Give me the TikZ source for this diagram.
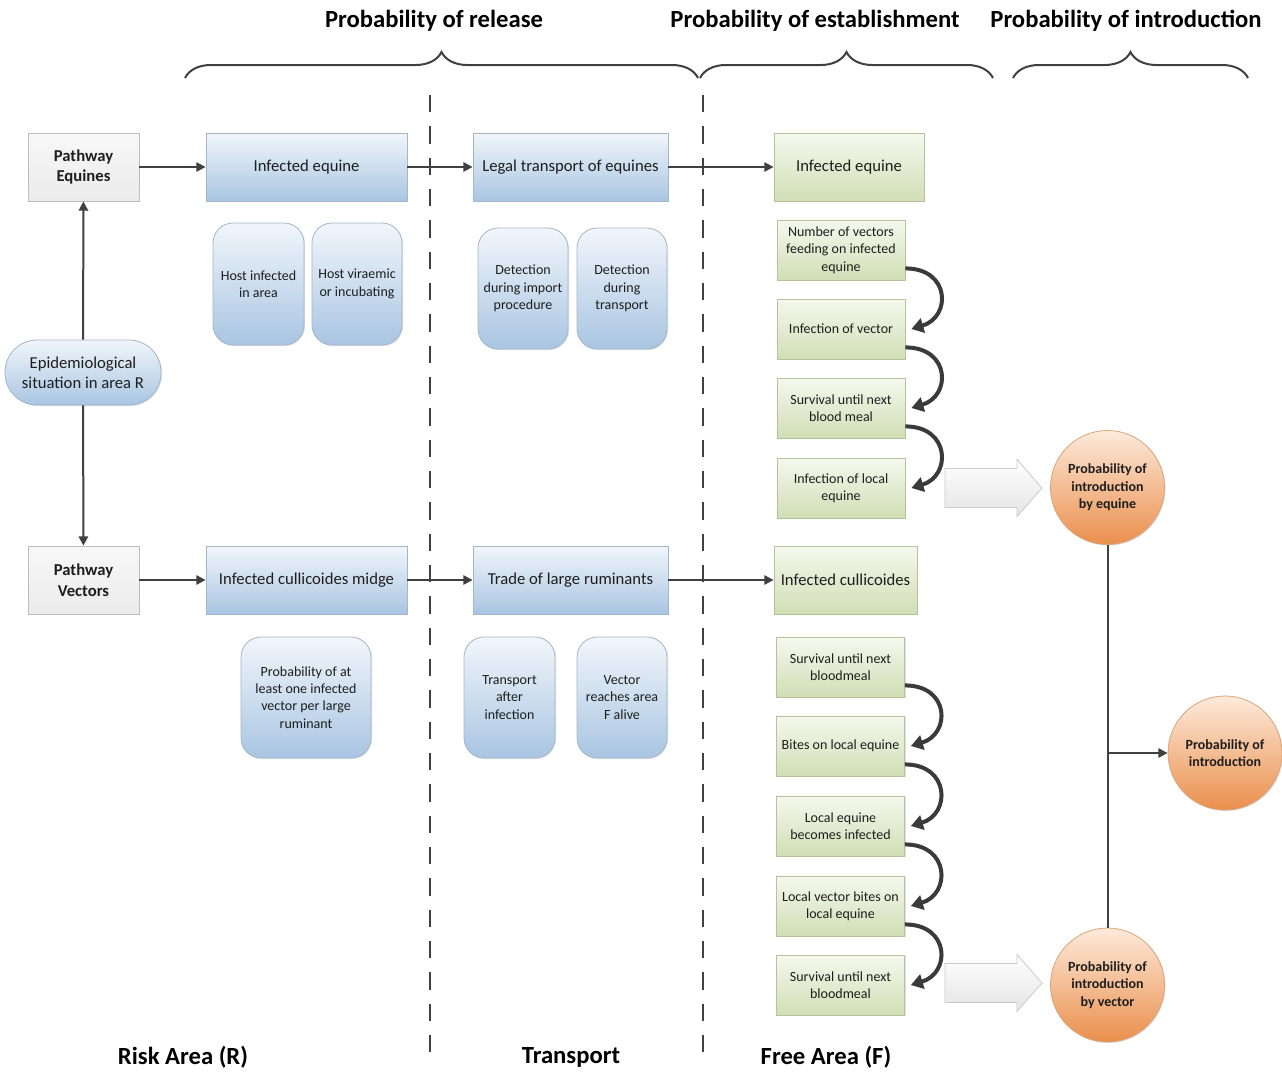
\documentclass[tikz,border=0pt]{standalone}
\usepackage{fontspec}
\setmainfont{Carlito}
\usetikzlibrary{arrows.meta,shapes.geometric,decorations.pathreplacing,calc,shadows}
\definecolor{txt}{HTML}{1E1E1E}
\definecolor{lnc}{HTML}{404040}
\definecolor{bluetop}{HTML}{F1F6FB}
\definecolor{bluebot}{HTML}{A9C5E2}
\definecolor{blueline}{HTML}{A3B6CA}
\definecolor{greentop}{HTML}{F5F8EE}
\definecolor{greenbot}{HTML}{D1DEB5}
\definecolor{greenline}{HTML}{B4C39A}
\definecolor{graytop}{HTML}{F8F8F8}
\definecolor{graybot}{HTML}{EBEBEB}
\definecolor{grayline}{HTML}{BDBDBD}
\definecolor{arrbot}{HTML}{E4E4E4}
\definecolor{ortop}{HTML}{FDEADB}
\definecolor{orbot}{HTML}{EA8F4C}
\definecolor{orline}{HTML}{D9A57A}
\begin{document}
\begin{tikzpicture}[x=0.75pt,y=-0.75pt,
  sz/.style 2 args={minimum width=#1*0.75pt, minimum height=#2*0.75pt},
  shd/.style={drop shadow={shadow xshift=0.8pt, shadow yshift=-0.8pt, opacity=0.25, fill=gray}},
  base/.style={inner sep=0pt, align=center, text=txt, line width=0.6pt, shd},
  graybox/.style={base, draw=grayline, top color=graytop, bottom color=graybot, font=\fontsize{12.5}{15.5}\selectfont\bfseries},
  bluebox/.style={base, draw=blueline, top color=bluetop, bottom color=bluebot, font=\fontsize{12.5}{15}\selectfont},
  bluerd/.style={bluebox, rounded corners=15pt, font=\fontsize{10.5}{13}\selectfont},
  greenbig/.style={base, draw=greenline, top color=greentop, bottom color=greenbot, font=\fontsize{12.5}{15}\selectfont},
  greensm/.style={greenbig, sz={128}{60}, font=\fontsize{10.5}{13}\selectfont},
  epistyle/.style={bluebox, rounded corners=24pt},
  circ/.style={base, circle, draw=orline, top color=ortop, bottom color=orbot, minimum size=85.5pt, font=\fontsize{10.5}{13}\selectfont\bfseries},
  bigarrow/.style={draw=grayline!80, line width=0.6pt, top color=white, bottom color=arrbot},
  arr/.style={draw=lnc, line width=1.5pt, -{Triangle[length=7pt,width=7pt]}},
  plain/.style={draw=lnc, line width=1.5pt},
  curv/.style={draw=lnc!90!black, line width=3pt, -{Triangle[length=9pt,width=11pt]}},
  dashline/.style={draw=lnc, line width=1.5pt, dash pattern=on 13pt off 10.5pt},
  brc/.style={draw=lnc, line width=1.5pt, decorate, decoration={brace, amplitude=19.5pt}},
  head/.style={font=\fontsize{18.5}{22}\selectfont\bfseries, text=black, inner sep=0pt}
]
\useasboundingbox (0,0) rectangle (1282,1072);

% headings and braces
\node[head] (h-rel) at (434,21) {Probability of release};
\node[head] (h-est) at (815,21) {Probability of establishment};
\node[head] (h-int) at (1126,21) {Probability of introduction};
\draw[brc] (185,78) -- (698,78);
\draw[brc] (700,78) -- (993,78);
\draw[brc] (1013,78) -- (1248,78);

% area separators
\draw[dashline] (430,95) -- (430,1052);
\draw[dashline] (703,95) -- (703,1052);

% left column
\node[graybox, sz={111}{68}] (pe) at (83.5,167) {Pathway\\Equines};
\node[epistyle, sz={156}{65}] (epi) at (83,372.5) {Epidemiological\\situation in area R};
\node[graybox, sz={111}{68}] (pv) at (83.5,580) {Pathway\\Vectors};

% equine pathway
\node[bluebox, sz={201}{68}] (ie) at (306.5,167) {Infected equine};
\node[bluebox, sz={195}{68}] (lt) at (570.5,167) {Legal transport of equines};
\node[greenbig, sz={150}{68}] (ge) at (849,167) {Infected equine};
\node[bluerd, sz={91}{122}] (h1) at (258.5,284) {Host infected\\in area};
\node[bluerd, sz={90}{122}] (h2) at (357,284) {Host viraemic\\or incubating};
\node[bluerd, sz={90}{121}] (d1) at (523,288.5) {Detection\\during import\\procedure};
\node[bluerd, sz={90}{121}] (d2) at (622,288.5) {Detection\\during\\transport};
\node[greensm] (g1) at (841,250) {Number of vectors\\feeding on infected\\equine};
\node[greensm] (g2) at (841,329) {Infection of vector};
\node[greensm] (g3) at (841,408) {Survival until next\\blood meal};
\node[greensm] (g4) at (841,488) {Infection of local\\equine};

% vector pathway
\node[bluebox, sz={201}{68}] (icm) at (306.5,580) {Infected cullicoides midge};
\node[bluebox, sz={195}{68}] (tr) at (570.5,580) {Trade of large ruminants};
\node[greenbig, sz={143}{68}] (gc) at (845.5,580) {Infected cullicoides};
\node[bluerd, sz={130}{121}] (pa) at (306,697.5) {Probability of at\\least one infected\\vector per large\\ruminant};
\node[bluerd, sz={91}{121}] (ta) at (509.5,697.5) {Transport\\after\\infection};
\node[bluerd, sz={90}{121}] (vr) at (622,697.5) {Vector\\reaches area\\F alive};
\node[greensm] (k1) at (840.5,667) {Survival until next\\bloodmeal};
\node[greensm] (k2) at (840.5,746) {Bites on local equine};
\node[greensm] (k3) at (840.5,826) {Local equine\\becomes infected};
\node[greensm] (k4) at (840.5,906) {Local vector bites on\\local equine};
\node[greensm] (k5) at (840.5,985) {Survival until next\\bloodmeal};

% introduction circles
\node[circ] (ce) at (1107.5,487.5) {Probability of\\introduction\\by equine};
\node[circ] (cp) at (1225,753) {Probability of\\introduction};
\node[circ] (cv) at (1107.5,985) {Probability of\\introduction\\by vector};

% big hollow arrows
\coordinate (ba1) at (945,488);
\coordinate (ba2) at (945,983);
\foreach \c in {ba1,ba2}{
  \path[bigarrow, shift={(\c)}] (0,-19.5) -- (72,-19.5) -- (72,-28.5) -- (97,0) -- (72,28.5) -- (72,19.5) -- (0,19.5) -- cycle;
}

% connectors
\draw[arr] (epi) -- (pe);
\draw[arr] (epi) -- (pv);
\draw[arr] (pe) -- (ie);
\draw[arr] (ie) -- (lt);
\draw[arr] (lt) -- (ge);
\draw[arr] (pv) -- (icm);
\draw[arr] (icm) -- (tr);
\draw[arr] (tr) -- (gc);
\draw[plain] (ce) -- (cv);
\coordinate (jn) at (ce |- cp);
\draw[arr] (jn) -- (cp);

% curved arrows
\foreach \a/\b in {g1/g2,g2/g3,g3/g4,k1/k2,k2/k3,k3/k4,k4/k5}{
  \draw[curv] ($(\a.south east)+(0,-12)$) .. controls +(45,0) and +(40,-12) .. ($(\b.east)+(6,0)$);
}

% bottom labels
\node[head] (l-r) at (183,1057) {Risk Area (R)};
\node[head] (l-t) at (571,1057) {Transport};
\node[head] (l-f) at (826,1057) {Free Area (F)};
\end{tikzpicture}
\end{document}
